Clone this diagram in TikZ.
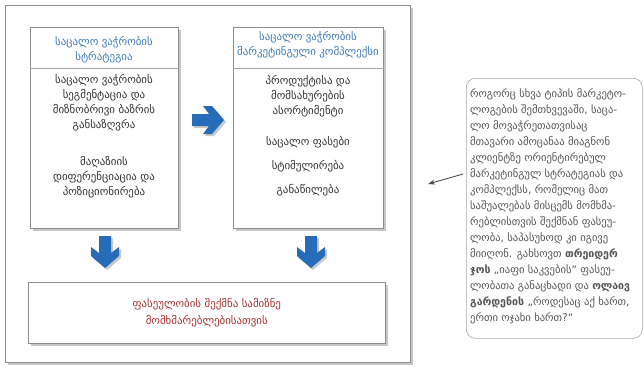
\documentclass[tikz,border=0pt]{standalone}
\usepackage{fontspec}
\setmainfont{DejaVu Sans}
\usetikzlibrary{shadows,calc,arrows.meta}
\definecolor{hdrblue}{RGB}{62,122,184}
\definecolor{arrblue}{RGB}{38,108,184}
\definecolor{valred}{RGB}{168,48,48}
\definecolor{bodytxt}{RGB}{50,50,50}
\definecolor{sidetxt}{RGB}{85,85,85}
\begin{document}
\begin{tikzpicture}[x=1pt,y=-1pt,
  frame/.style={draw=black!45, fill=white, line width=0.6pt, inner sep=0pt,
    drop shadow={shadow xshift=2.5pt, shadow yshift=-2.5pt, opacity=0.4, fill=black!55}},
  divline/.style={draw=black!35, line width=0.6pt},
  txt/.style={font=\fontsize{10.9}{15}\selectfont, text=bodytxt, align=center, inner sep=0pt},
  hdr/.style={txt, text=hdrblue},
  valtxt/.style={txt, text=valred, font=\fontsize{10.9}{17}\selectfont},
  side/.style={font=\fontsize{10.6}{16}\selectfont, text=sidetxt, align=left, inner sep=0pt},
  bluearrow/.pic={
    \fill[arrblue, drop shadow={shadow xshift=2pt, shadow yshift=-2pt, opacity=0.35, fill=black!60}]
      (-16,-6) -- (1,-6) -- (-5,-14) -- (4,-14) -- (16,0) -- (4,14) -- (-5,14) -- (1,6) -- (-16,6) -- cycle;
  },
  pointer/.style={-{Stealth[length=7pt,width=5pt]}, draw=black!70, line width=0.9pt}
]
\useasboundingbox[fill=white] (0,0) rectangle (644,367);

% outer frame
\node[frame, anchor=north west, minimum width=405pt, minimum height=357pt] (outer) at (5,5) {};

% box 1
\node[frame, anchor=north west, minimum width=148pt, minimum height=201pt] (b1) at (30,27) {};
\draw[divline] ($(b1.north west)+(0,41)$) -- ($(b1.north east)+(0,41)$);
\node[hdr] (b1h) at (104,50) {საცალო ვაჭრობის\\სტრატეგია};
\node[txt] (b1a) at (104,103) {საცალო ვაჭრობის\\სეგმენტაცია და\\მიზნობრივი ბაზრის\\განსაზღვრა};
\node[txt] (b1b) at (104,177) {მაღაზიის\\დიფერენციაცია და\\პოზიციონირება};

% box 2
\node[frame, anchor=north west, minimum width=150pt, minimum height=201pt] (b2) at (233,27) {};
\draw[divline] ($(b2.north west)+(0,41)$) -- ($(b2.north east)+(0,41)$);
\node[hdr] (b2h) at (308,45) {საცალო ვაჭრობის\\მარკეტინგული კომპლექსი};
\node[txt] (b2a) at (308,96) {პროდუქტისა და\\მომსახურების\\ასორტიმენტი};
\node[txt] (b2b) at (308,142) {საცალო ფასები};
\node[txt] (b2c) at (308,166) {სტიმულირება};
\node[txt] (b2d) at (308,190) {განაწილება};

% bottom box
\node[frame, anchor=north west, minimum width=357pt, minimum height=61pt] (b3) at (28,282) {};
\node[valtxt] (b3t) at (b3.center) {ფასეულობის შექმნა სამიზნე\\მომხმარებლებისათვის};

% block arrows
\pic at (208,120) {bluearrow};
\pic[rotate=-90] at (105,252) {bluearrow};
\pic[rotate=-90] at (311,252) {bluearrow};

% side note
\node[draw=black!35, line width=0.6pt, rounded corners=9pt, anchor=north west,
  minimum width=176pt, minimum height=260pt, inner sep=0pt] (rb) at (466,78) {};
\node[side, anchor=north west] (rbt) at (470,88) {როგორც სხვა ტიპის მარკეტო-\\
ლოგების შემთხვევაში, საცა-\\
ლო მოვაჭრეთათვისაც\\
მთავარი ამოცანაა მიაგნონ\\
კლიენტზე ორიენტირებულ\\
მარკეტინგულ სტრატეგიას და\\
კომპლექსს, რომელიც მათ\\
საშუალებას მისცემს მომხმა-\\
რებლისთვის შექმნან ფასეუ-\\
ლობა, საპასუხოდ კი იგივე\\
მიიღონ. გახსოვთ \textbf{თრეიდერ}\\
\textbf{ჯოს} „იაფი საკვების“ ფასეუ-\\
ლობათა განაცხადი და \textbf{ოლაივ}\\
\textbf{გარდენის} „როდესაც აქ ხართ,\\
ერთი ოჯახი ხართ?“};

\coordinate (pfrom) at (463,174);
\coordinate (pto) at (428,184);
\draw[pointer] (pfrom) -- (pto);
\end{tikzpicture}
\end{document}
